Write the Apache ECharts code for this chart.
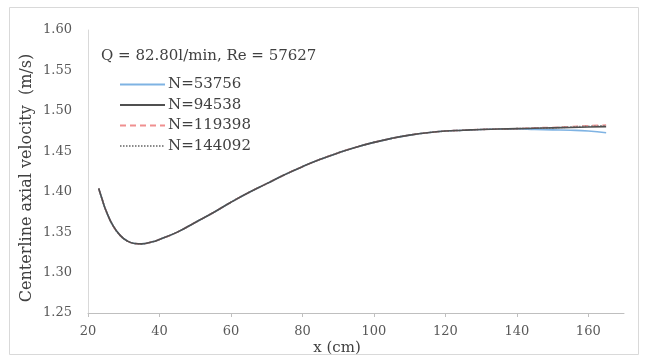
<!DOCTYPE html>
<html>
<head>
<meta charset="utf-8">
<script src="https://cdn.jsdelivr.net/npm/echarts@6/dist/echarts.min.js"></script>
<style>html,body{margin:0;padding:0;background:#fff}#c{width:648px;height:358px}</style>
</head>
<body>
<div id="c"></div>
<script>
var xPos = [23, 24, 25, 27, 29, 31, 33, 35, 38, 40, 45, 50, 55, 60, 65, 70, 75, 80, 85, 90, 95, 100, 105, 110, 115, 120, 125, 130, 135, 140, 145, 150, 155, 160, 165];
var n53756  = [1.404, 1.390, 1.377, 1.358, 1.346, 1.339, 1.336, 1.3355, 1.338, 1.341, 1.350, 1.362, 1.374, 1.387, 1.399, 1.410, 1.421, 1.431, 1.440, 1.448, 1.455, 1.461, 1.466, 1.470, 1.473, 1.475, 1.476, 1.477, 1.4775, 1.4775, 1.477, 1.4765, 1.476, 1.475, 1.473];
var n94538  = [1.404, 1.390, 1.377, 1.358, 1.346, 1.339, 1.336, 1.3355, 1.338, 1.341, 1.350, 1.362, 1.374, 1.387, 1.399, 1.410, 1.421, 1.431, 1.440, 1.448, 1.455, 1.461, 1.466, 1.470, 1.473, 1.475, 1.476, 1.477, 1.4775, 1.478, 1.4785, 1.479, 1.4795, 1.480, 1.4805];
var n119398 = [1.404, 1.390, 1.377, 1.358, 1.346, 1.339, 1.336, 1.3355, 1.338, 1.341, 1.350, 1.362, 1.374, 1.387, 1.399, 1.410, 1.421, 1.431, 1.440, 1.448, 1.455, 1.461, 1.466, 1.470, 1.473, 1.475, 1.476, 1.477, 1.4775, 1.478, 1.479, 1.4795, 1.4805, 1.4815, 1.4825];
var n144092 = [1.404, 1.390, 1.377, 1.358, 1.346, 1.339, 1.336, 1.3355, 1.338, 1.341, 1.350, 1.362, 1.374, 1.387, 1.399, 1.410, 1.421, 1.431, 1.440, 1.448, 1.455, 1.461, 1.466, 1.470, 1.473, 1.475, 1.476, 1.477, 1.4775, 1.478, 1.4785, 1.479, 1.480, 1.481, 1.4815];
var seriesNames = ['N=53756', 'N=94538', 'N=119398', 'N=144092'];
var xTicks = [20, 40, 60, 80, 100, 120, 140, 160];
var yTicks = [1.25, 1.30, 1.35, 1.40, 1.45, 1.50, 1.55, 1.60];

function pairs(ys) { return xPos.map(function (x, i) { return [x, ys[i]]; }); }

var FONT = 'DejaVu Serif';
var chart = echarts.init(document.getElementById('c'), null, { renderer: 'canvas' });
var styles = [
  { color: '#7fb3e3', type: 'solid', z: 2 },
  { color: '#505050', type: 'solid', z: 6 },
  { color: '#f08f8f', type: [6, 4], z: 4 },
  { color: '#8a8a8a', type: [1.5, 1.5], z: 5 }
];
var datas = [n53756, n94538, n119398, n144092];

chart.setOption({
  animation: false,
  backgroundColor: '#fff',
  title: {
    text: 'Q = 82.80l/min, Re = 57627',
    left: 96, top: 44,
    textStyle: { fontFamily: FONT, fontSize: 15, fontWeight: 'normal', color: '#404040' }
  },
  legend: {
    orient: 'vertical', left: 114, top: 72,
    itemWidth: 45, itemHeight: 12, itemGap: 5.5,
    data: seriesNames,
    itemStyle: { opacity: 0 },
    textStyle: { fontFamily: FONT, fontSize: 15, color: '#404040', padding: [0, 0, 0, -2] }
  },
  grid: { left: 88, right: 24, top: 30, bottom: 45 },
  xAxis: {
    type: 'value', min: 20, max: 170, interval: 20,
    axisLine: { lineStyle: { color: '#bfbfbf', width: 1 } },
    axisTick: { show: true, length: 4, lineStyle: { color: '#bfbfbf' }, customValues: xTicks },
    axisLabel: { fontFamily: FONT, fontSize: 13, color: '#595959', margin: 12, customValues: xTicks },
    splitLine: { show: false }
  },
  yAxis: {
    type: 'value', min: 1.25, max: 1.60, interval: 0.05,
    axisLine: { show: true, lineStyle: { color: '#d9d9d9', width: 1 } },
    axisTick: { show: false },
    axisLabel: { fontFamily: FONT, fontSize: 13, color: '#595959', margin: 16,
      customValues: yTicks,
      formatter: function (v) { return v.toFixed(2); } },
    splitLine: { show: false }
  },
  graphic: [
    { type: 'rect', shape: { x: 9.5, y: 7.5, width: 629, height: 347 },
      style: { fill: 'none', stroke: '#d9d9d9', lineWidth: 1 }, silent: true, z: -10 },
    { type: 'text', x: 27, y: 178, rotation: Math.PI / 2,
      style: { text: 'Centerline axial velocity  (m/s)', fontFamily: FONT, fontSize: 16,
        fill: '#404040', align: 'center', verticalAlign: 'middle' } },
    { type: 'text', x: 337, y: 348,
      style: { text: 'x (cm)', fontFamily: FONT, fontSize: 15,
        fill: '#404040', align: 'center', verticalAlign: 'middle' } }
  ],
  series: datas.map(function (d, i) {
    return {
      name: seriesNames[i], type: 'line', smooth: true, symbol: 'none',
      data: pairs(d),
      lineStyle: { color: styles[i].color, type: styles[i].type, width: 1.6 },
      itemStyle: { color: styles[i].color },
      z: styles[i].z
    };
  })
});
</script>
</body>
</html>
